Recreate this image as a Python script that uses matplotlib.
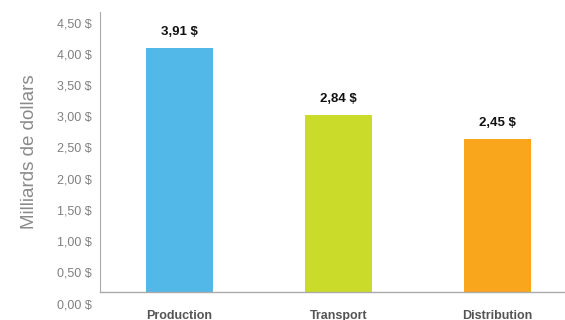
import matplotlib.pyplot as plt
from matplotlib.transforms import blended_transform_factory, ScaledTranslation

categories = ["Production", "Transport", "Distribution"]
values = [3.91, 2.84, 2.45]
value_labels = ["3,91 $", "2,84 $", "2,45 $"]
colors = ["#52B8E8", "#CBDB2A", "#F9A61C"]
yticks = [0, 0.5, 1.0, 1.5, 2.0, 2.5, 3.0, 3.5, 4.0, 4.5]
ytick_labels = ["0,00 $", "0,50 $", "1,00 $", "1,50 $", "2,00 $",
                "2,50 $", "3,00 $", "3,50 $", "4,00 $", "4,50 $"]

plt.rcParams['font.family'] = ['Liberation Sans', 'DejaVu Sans']

fig = plt.figure(figsize=(5.65, 3.2), dpi=100)
ax = fig.add_axes([100 / 565, 28 / 320, 465 / 565, 280 / 320])

x = range(len(categories))
bars = ax.bar(x, values, width=0.42, color=colors)

ax.set_xlim(-0.5, 2.425)
ax.set_ylim(0, 4.487)

for b, lab in zip(bars, value_labels):
    ax.annotate(lab, (b.get_x() + b.get_width() / 2, b.get_height()),
                xytext=(0, 7), textcoords="offset points",
                ha="center", va="bottom", fontsize=9.5, fontweight="bold",
                color="#111111")

# y labels sit a little below their gridline positions, as in the original
ax.set_yticks([])
trans = blended_transform_factory(ax.transAxes, ax.transData) + \
    ScaledTranslation(-8 / 100, -13 / 100, fig.dpi_scale_trans)
for v, lab in zip(yticks, ytick_labels):
    ax.text(0, v, lab, transform=trans, ha="right", va="center",
            fontsize=9, color="#808080", clip_on=False)

ax.set_xticks(list(x))
ax.set_xticklabels(categories, fontsize=9, fontweight="bold", color="#555555")
ax.tick_params(axis="x", length=0, pad=13)

ax.set_ylabel("Milliards de dollars", fontsize=13.5, color="#8a8a8a",
              labelpad=45)

for s in ["top", "right"]:
    ax.spines[s].set_visible(False)
ax.spines["left"].set_color("#aaaaaa")
ax.spines["bottom"].set_color("#aaaaaa")
ax.spines["left"].set_linewidth(0.8)
ax.spines["bottom"].set_linewidth(1.0)

fig.savefig("out.png", dpi=100)
